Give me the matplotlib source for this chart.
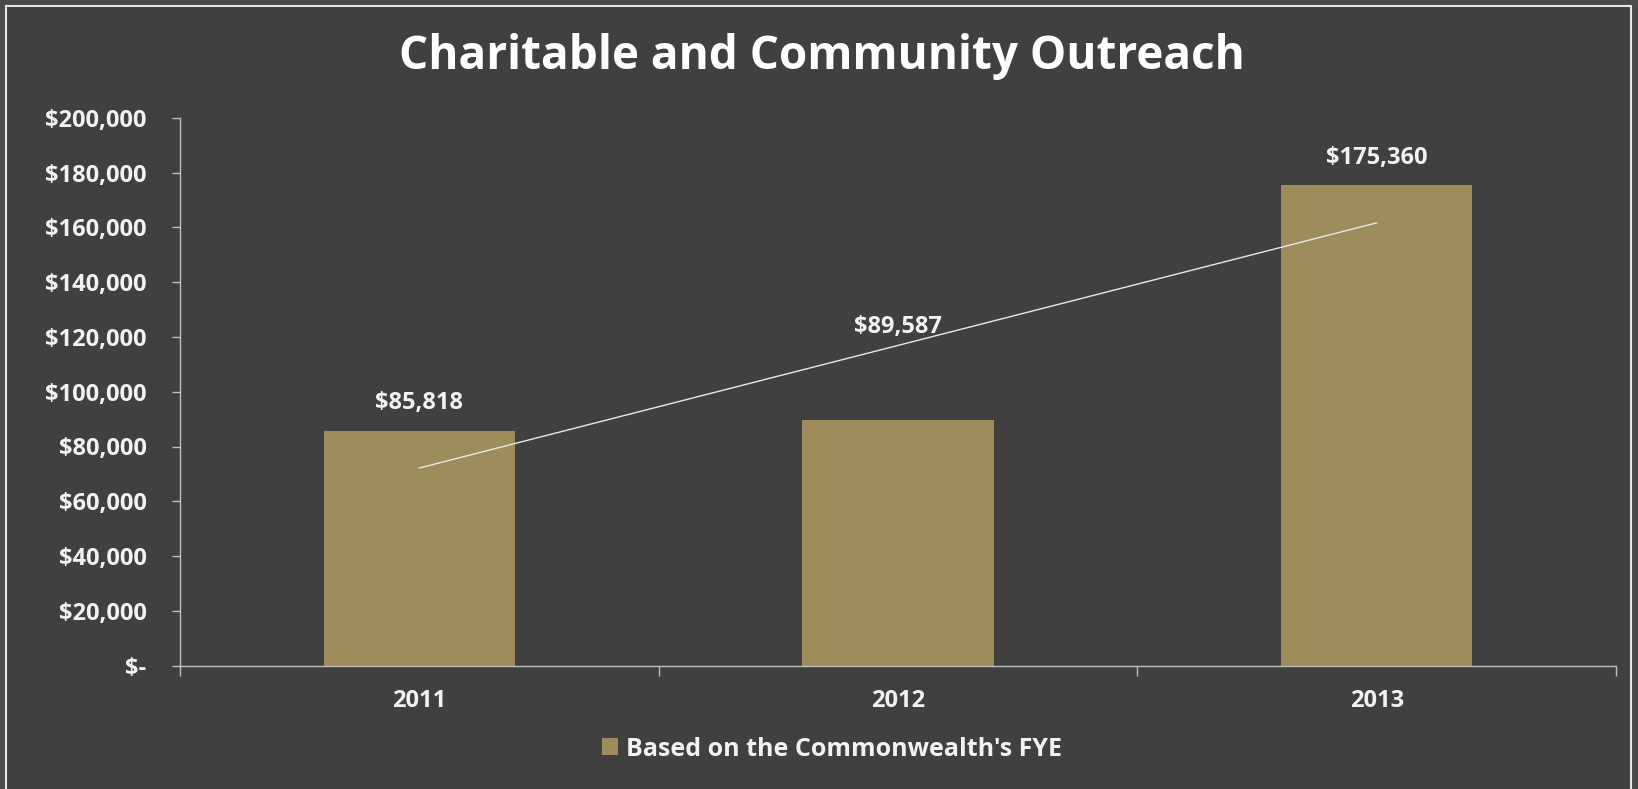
import matplotlib
matplotlib.use("Agg")
import matplotlib.pyplot as plt
from matplotlib.patches import Rectangle, Patch
from matplotlib.ticker import FuncFormatter
import numpy as np

years = ["2011", "2012", "2013"]
outreach = [85818, 89587, 175360]
series_name = "Based on the Commonwealth's FYE"
chart_title = "Charitable and Community Outreach"

bg = "#404040"
bar_col = "#9e8c5a"
txt = "#f2f2f2"
axis_col = "#bfbfbf"

plt.rcParams['font.family'] = ['Open Sans', 'DejaVu Sans']
plt.rcParams['font.weight'] = 'bold'

fig = plt.figure(figsize=(16.38, 7.89), dpi=100)
fig.patch.set_facecolor("#4a4a4a")
# framed panel
fig.add_artist(Rectangle((6/1638, -0.02), (1631-6)/1638, 1.02 - 6/789,
                         transform=fig.transFigure, facecolor=bg,
                         edgecolor="#e6e6e6", lw=1.5, zorder=0))

ax = fig.add_axes([180/1638, 1-665.5/789, (1616-180)/1638, (665.5-118)/789])
ax.set_facecolor("none")

x = np.arange(len(years))
ax.bar(x, outreach, width=0.4, color=bar_col, zorder=2)

# linear trendline
coef = np.polyfit(x, outreach, 1)
ax.plot(x, np.polyval(coef, x), color="#e8e8e8", lw=1, zorder=3)

# data labels
offsets = [20, 67, 20]
for xi, v, off in zip(x, outreach, offsets):
    ax.annotate("${:,.0f}".format(v), (xi, v), xytext=(0, off),
                textcoords="offset points", ha="center", va="center",
                color=txt, fontsize=17, fontweight="bold")

ax.set_xlim(-0.5, 2.5)
ax.set_ylim(0, 200000)
ax.set_yticks(np.arange(0, 200001, 20000))
ax.yaxis.set_major_formatter(FuncFormatter(lambda v, p: "$-" if v == 0 else "${:,.0f}".format(v)))

ax.set_xticks([-0.5, 0.5, 1.5, 2.5])
ax.set_xticklabels([])
ax.set_xticks(x, minor=True)
ax.set_xticklabels(years, minor=True)
ax.tick_params(axis="x", which="major", length=7, width=1, color=axis_col, direction="out")
ax.tick_params(axis="x", which="minor", length=0, pad=17, labelsize=17, labelcolor=txt)
ax.tick_params(axis="y", length=6, width=1, color=axis_col, direction="out", pad=18,
               labelsize=17, labelcolor=txt)

for s in ["top", "right"]:
    ax.spines[s].set_visible(False)
for s in ["left", "bottom"]:
    ax.spines[s].set_color(axis_col)
    ax.spines[s].set_linewidth(1)

fig.text(822/1638, 1-57/789, chart_title, ha="center", va="center",
         color="white", fontsize=33, fontweight="bold")

fig.legend(handles=[Patch(facecolor=bar_col, label=series_name)], loc="center",
           bbox_to_anchor=(832/1638, 1-749/789), frameon=False, fontsize=18,
           labelcolor=txt, handlelength=0.65, handleheight=0.65, handletextpad=0.3)

fig.savefig("out.png", dpi=100, facecolor=fig.get_facecolor())
